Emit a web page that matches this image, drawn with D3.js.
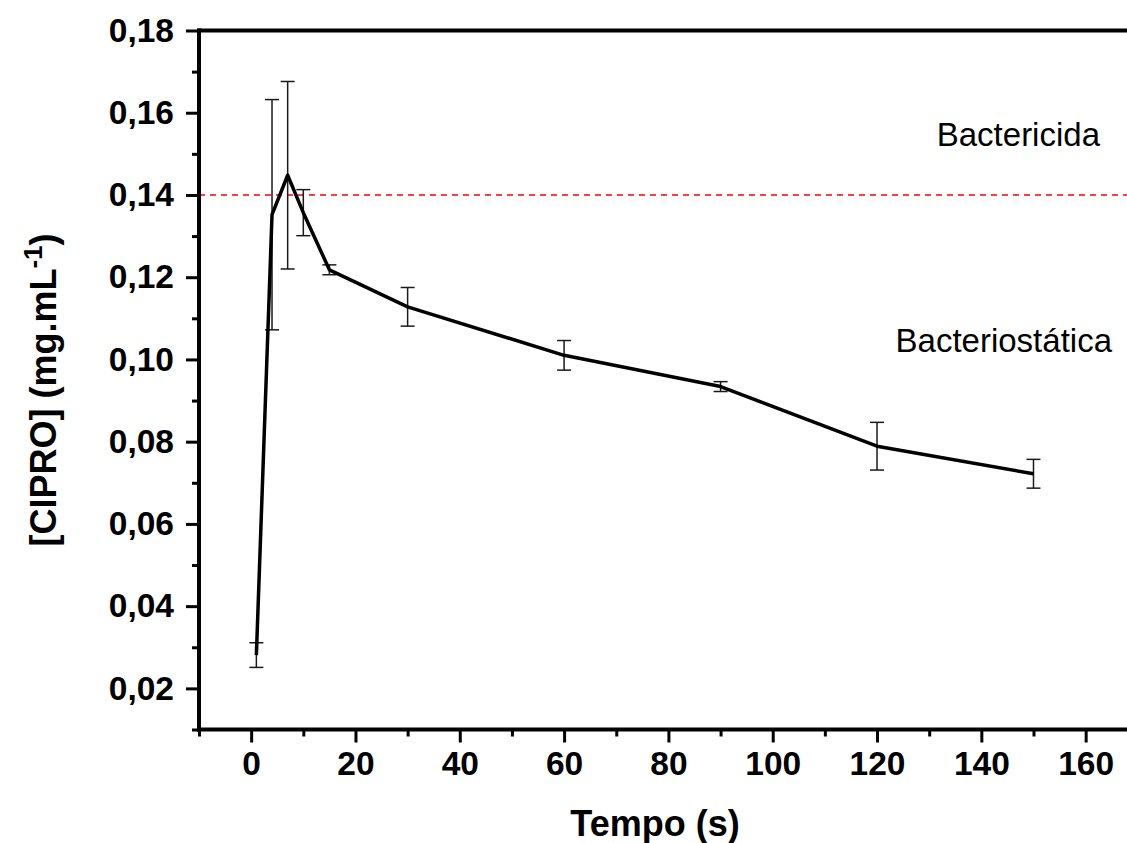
<!DOCTYPE html>
<html>
<head>
<meta charset="utf-8">
<script src="https://cdn.jsdelivr.net/npm/d3@7"></script>
<style>
  html, body { margin: 0; padding: 0; background: #fff; }
  svg { display: block; }
  text { font-family: "Liberation Sans", Arial, sans-serif; fill: #000; }
</style>
</head>
<body>
<svg id="chart" width="1127" height="843"></svg>
<script>
// ---- data ----
const tempo = [1, 4, 7, 10, 15, 30, 60, 90, 120, 150];
const cipro = [0.0281, 0.1352, 0.1448, 0.1357, 0.1218, 0.1128, 0.1010, 0.0934, 0.0789, 0.0722];
const ciproErr = [0.0030, 0.0280, 0.0228, 0.0056, 0.0012, 0.0047, 0.0036, 0.0012, 0.0058, 0.0035];
const xMajorTicks = [0, 20, 40, 60, 80, 100, 120, 140, 160];
const xMinorTicks = [-10, 10, 30, 50, 70, 90, 110, 130, 150, 170];
const yMajorTicks = [0.02, 0.04, 0.06, 0.08, 0.10, 0.12, 0.14, 0.16, 0.18];
const yMinorTicks = [0.01, 0.03, 0.05, 0.07, 0.09, 0.11, 0.13, 0.15, 0.17];
const threshold = 0.14;
const regionLabels = ["Bactericida", "Bacteriostática"];
const xTitle = "Tempo (s)";

// ---- layout ----
const svg = d3.select("#chart");
const plotLeft = 199, plotTop = 30.5, plotBottom = 729.5;
const x = d3.scaleLinear().domain([-10, 170]).range([plotLeft, plotLeft + 180 * 5.2156]);
const y = d3.scaleLinear().domain([0.01, 0.18]).range([plotBottom, plotTop]);
const fmt = v => d3.format(".2f")(v).replace(".", ",");

// dashed threshold line
svg.append("line")
  .attr("x1", plotLeft).attr("x2", 1127)
  .attr("y1", y(threshold)).attr("y2", y(threshold))
  .attr("stroke", "#ff0000").attr("stroke-width", 1.5)
  .attr("stroke-dasharray", "6,5");

// error bars
const eb = svg.append("g").attr("stroke", "#1a1a1a").attr("stroke-width", 1.5);
tempo.forEach((t, i) => {
  const cx = x(t), y1 = y(cipro[i] + ciproErr[i]), y2 = y(cipro[i] - ciproErr[i]);
  eb.append("line").attr("x1", cx).attr("x2", cx).attr("y1", y1).attr("y2", y2);
  eb.append("line").attr("x1", cx - 7).attr("x2", cx + 7).attr("y1", y1).attr("y2", y1);
  eb.append("line").attr("x1", cx - 7).attr("x2", cx + 7).attr("y1", y2).attr("y2", y2);
});

// data line
const line = d3.line().x((d, i) => x(tempo[i])).y(d => y(d));
svg.append("path").datum(cipro)
  .attr("d", line).attr("fill", "none")
  .attr("stroke", "#000").attr("stroke-width", 3.5)
  .attr("stroke-linejoin", "round");

// axes
const yAxisMajor = d3.axisLeft(y).tickValues(yMajorTicks).tickSize(13).tickFormat(fmt).tickPadding(12);
const yAxisMinor = d3.axisLeft(y).tickValues(yMinorTicks).tickSize(7).tickFormat("");
const xAxisMajor = d3.axisBottom(x).tickValues(xMajorTicks).tickSize(13).tickFormat(d3.format("d")).tickPadding(9);
const xAxisMinor = d3.axisBottom(x).tickValues(xMinorTicks).tickSize(7).tickFormat("");

function styleAxis(g) {
  g.select(".domain").remove();
  g.selectAll(".tick line").attr("stroke", "#000").attr("stroke-width", 3);
  g.selectAll(".tick text").attr("font-size", 33.5).attr("font-weight", "bold")
    .attr("font-family", "Liberation Sans, Arial, sans-serif").attr("fill", "#000");
}
svg.append("g").attr("transform", `translate(${plotLeft},0)`).call(yAxisMinor).call(styleAxis);
svg.append("g").attr("transform", `translate(${plotLeft},0)`).call(yAxisMajor).call(styleAxis);
svg.append("g").attr("transform", `translate(0,${plotBottom})`).call(xAxisMinor).call(styleAxis);
svg.append("g").attr("transform", `translate(0,${plotBottom})`).call(xAxisMajor).call(styleAxis);

// frame lines
svg.append("line").attr("x1", plotLeft).attr("x2", plotLeft).attr("y1", plotTop - 2).attr("y2", plotBottom + 2)
  .attr("stroke", "#000").attr("stroke-width", 4);
svg.append("line").attr("x1", plotLeft - 2).attr("x2", 1127).attr("y1", plotBottom).attr("y2", plotBottom)
  .attr("stroke", "#000").attr("stroke-width", 4);
svg.append("line").attr("x1", plotLeft - 2).attr("x2", 1127).attr("y1", plotTop).attr("y2", plotTop)
  .attr("stroke", "#000").attr("stroke-width", 4);

// region labels
svg.append("text").attr("x", 1100).attr("y", 146).attr("text-anchor", "end")
  .attr("font-size", 33).text(regionLabels[0]);
svg.append("text").attr("x", 1112).attr("y", 352).attr("text-anchor", "end")
  .attr("font-size", 33).text(regionLabels[1]);

// axis titles
svg.append("text").attr("x", 655).attr("y", 836).attr("text-anchor", "middle")
  .attr("font-size", 36).attr("font-weight", "bold").text(xTitle);

const yt = svg.append("text")
  .attr("transform", "translate(56,390) rotate(-90)")
  .attr("text-anchor", "middle").attr("font-size", 36).attr("font-weight", "bold");
yt.append("tspan").text("[CIPRO] (mg.mL");
yt.append("tspan").attr("dy", -14).attr("font-size", 26).text("-1");
yt.append("tspan").attr("dy", 14).text(")");
</script>
</body>
</html>
